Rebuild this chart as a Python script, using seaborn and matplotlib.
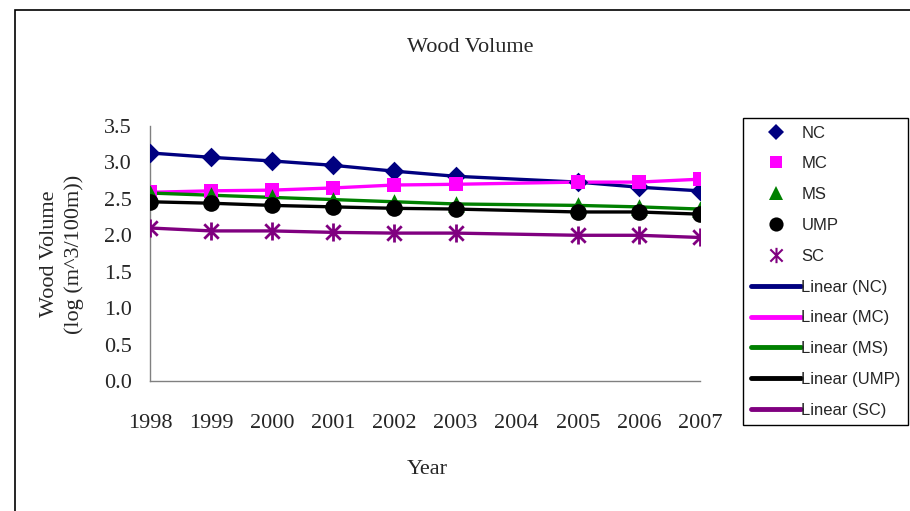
import numpy as np
import pandas as pd
import seaborn as sns
import matplotlib.pyplot as plt
from matplotlib.lines import Line2D
from matplotlib.patches import Rectangle
from matplotlib.path import Path

# data (no values for 2004)
years = [1998, 1999, 2000, 2001, 2002, 2003, 2004, 2005, 2006, 2007]
nc = [3.13, 3.07, 3.02, 2.96, 2.88, 2.81, None, 2.73, 2.66, 2.61]
mc = [2.59, 2.61, 2.62, 2.65, 2.69, 2.70, None, 2.73, 2.73, 2.77]
ms = [2.58, 2.55, 2.52, 2.49, 2.46, 2.43, None, 2.41, 2.39, 2.36]
ump = [2.46, 2.44, 2.41, 2.39, 2.37, 2.36, None, 2.32, 2.32, 2.29]
sc = [2.10, 2.06, 2.06, 2.04, 2.03, 2.03, None, 2.00, 2.00, 1.97]

series = ["NC", "MC", "MS", "UMP", "SC"]
colors = {"NC": "#000080", "MC": "#FF00FF", "MS": "#008000", "UMP": "#000000", "SC": "#800080"}

# excel style star marker: vertical bar + X
star = Path([(0, -1), (0, 1), (-0.8, -0.8), (0.8, 0.8), (-0.8, 0.8), (0.8, -0.8)],
            [Path.MOVETO, Path.LINETO, Path.MOVETO, Path.LINETO, Path.MOVETO, Path.LINETO])
markers = {"NC": "D", "MC": "s", "MS": "^", "UMP": "o", "SC": star}
msizes = {"NC": 10, "MC": 10, "MS": 12, "UMP": 12, "SC": 13}

df = pd.DataFrame({"Year": years, "NC": nc, "MC": mc, "MS": ms, "UMP": ump, "SC": sc})
long = df.melt(id_vars="Year", var_name="site", value_name="vol").dropna()
long["vol"] = long["vol"].astype(float)

sns.set_style("white")
plt.rcParams["font.family"] = ["Liberation Serif", "DejaVu Serif"]

fig = plt.figure(figsize=(9.1, 5.11), dpi=100)
ax = fig.add_axes([150 / 910, 1 - 381 / 511, 550 / 910, 255 / 511])

for s in series:
    sub = long[long["site"] == s]
    sns.lineplot(data=sub, x="Year", y="vol", ax=ax, color=colors[s], linewidth=2.4,
                 legend=False, zorder=2)
    sns.scatterplot(data=sub, x="Year", y="vol", ax=ax, color=colors[s], marker=markers[s],
                    s=msizes[s] ** 2, linewidth=2 if s == "SC" else 0,
                    edgecolor=colors[s], legend=False, zorder=3)

ax.set_xlim(1998, 2007)
ax.set_ylim(0, 3.5)
ax.set_xticks(years)
ax.set_xticklabels([str(y) for y in years])
ax.set_yticks(np.arange(0, 3.51, 0.5))
ax.set_yticklabels([f"{v:.1f}" for v in np.arange(0, 3.51, 0.5)])
ax.tick_params(axis="x", direction="out", length=7, width=1, color="#808080", pad=17, labelsize=16)
ax.tick_params(axis="y", direction="out", length=7, width=1, color="#808080", pad=6, labelsize=16)
for side in ["top", "right"]:
    ax.spines[side].set_visible(False)
for side in ["left", "bottom"]:
    ax.spines[side].set_color("#808080")
    ax.spines[side].set_linewidth(1)
ax.set_xlabel("")
ax.set_ylabel("")
ax.grid(False)

fig.text(470 / 910, 1 - 47 / 511, "Wood Volume", ha="center", va="center", fontsize=16)
fig.text(427 / 910, 1 - 470 / 511, "Year", ha="center", va="center", fontsize=16)
fig.text(62 / 910, 1 - 254 / 511, "Wood Volume\n(log (m^3/100m))", ha="center", va="center",
         rotation=90, fontsize=16, linespacing=1.4)

# outer chart border
fig.patches.append(Rectangle((15 / 910, -0.05), 1.2, 1 - 10 / 511 + 0.05, transform=fig.transFigure,
                             fill=False, edgecolor="black", linewidth=1.2))

handles = []
labels = []
for s in series:
    handles.append(Line2D([], [], linestyle="none", marker=markers[s], color=colors[s],
                          markersize=msizes[s] * 0.85, markeredgewidth=1.5 if s == "SC" else 0))
    labels.append(s)
for s in series:
    handles.append(Line2D([], [], color=colors[s], linewidth=3.5))
    labels.append(f"Linear ({s})")

leg = fig.legend(handles, labels, loc="upper left", bbox_to_anchor=(743 / 910, 1 - 118 / 511),
                 frameon=True, fancybox=False, edgecolor="black", framealpha=1,
                 prop={"family": "Liberation Sans", "size": 12}, handlelength=3.0,
                 handletextpad=0.05, labelspacing=0.95, borderpad=0.45, borderaxespad=0,
                 numpoints=1)
leg.get_frame().set_linewidth(1)

fig.savefig("out.png", dpi=100)
